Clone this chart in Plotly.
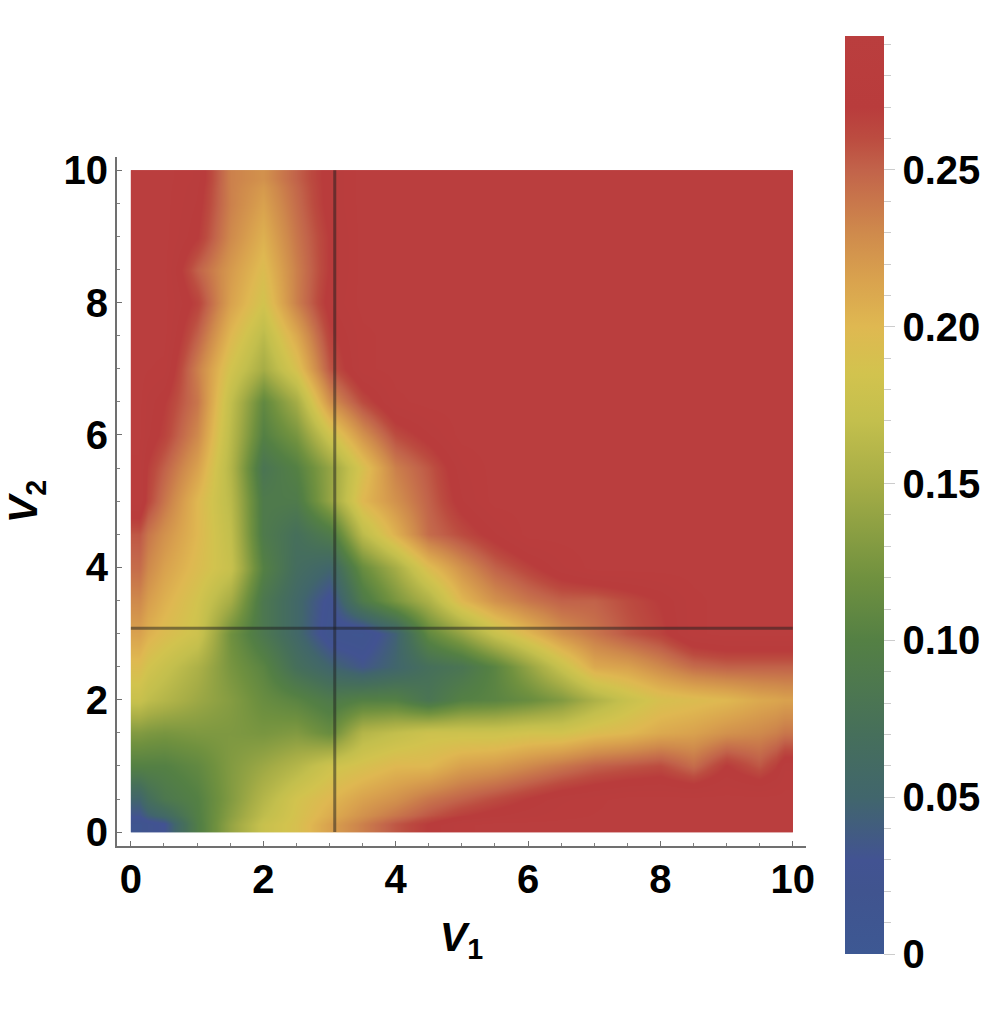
import plotly.graph_objects as go

v1_edges = [0, .25, .75, 1.25, 1.75, 2.25, 2.75, 3.25, 3.75, 4.25, 4.75, 5.25, 5.75, 6.25, 6.75, 7.25, 7.75, 8.25, 8.75, 9.25, 9.75, 10]
v2_edges = [0, .25, .75, 1.25, 1.75, 2.25, 2.75, 3.25, 3.75, 4.25, 4.75, 5.25, 5.75, 6.25, 6.75, 7.25, 7.75, 8.25, 8.75, 9.25, 9.75, 10]
crosshair_v1 = [3.08, 3.08]
crosshair_v2 = [3.08, 3.08]
crosshair_span = [0, 10]
z_max = 0.2927

z_rows = [
 [.015,.03,.095,.14,.175,.19,.215,.235,.255,.27,.285,.29,.29,.29,.29,.29,.29,.29,.29,.29,.29],
 [.05,.085,.10,.13,.16,.185,.20,.215,.225,.24,.25,.26,.27,.28,.285,.29,.29,.29,.29,.29,.29],
 [.10,.10,.11,.13,.145,.16,.18,.19,.20,.20,.215,.22,.23,.24,.25,.255,.26,.245,.27,.255,.28],
 [.13,.125,.128,.128,.125,.13,.115,.16,.17,.18,.18,.18,.185,.185,.195,.20,.21,.215,.225,.23,.24],
 [.175,.16,.145,.132,.115,.105,.09,.10,.10,.08,.10,.105,.115,.13,.155,.175,.19,.195,.20,.21,.215],
 [.195,.175,.155,.125,.105,.07,.05,.035,.05,.07,.08,.105,.14,.175,.21,.215,.23,.245,.25,.25,.25],
 [.215,.195,.18,.12,.085,.055,.02,.015,.045,.11,.14,.175,.20,.225,.24,.255,.265,.285,.29,.29,.29],
 [.23,.205,.185,.15,.085,.055,.025,.09,.125,.155,.20,.225,.24,.25,.25,.26,.27,.285,.29,.29,.29],
 [.245,.215,.195,.175,.10,.065,.05,.115,.15,.195,.225,.25,.265,.28,.29,.29,.29,.29,.29,.29,.29],
 [.255,.225,.20,.17,.09,.07,.09,.165,.205,.245,.26,.275,.29,.29,.29,.29,.29,.29,.29,.29,.29],
 [.285,.24,.20,.165,.09,.09,.14,.20,.225,.25,.275,.29,.29,.29,.29,.29,.29,.29,.29,.29,.29],
 [.285,.25,.215,.16,.08,.10,.14,.19,.235,.255,.28,.29,.29,.29,.29,.29,.29,.29,.29,.29,.29],
 [.29,.265,.23,.165,.10,.125,.18,.225,.26,.275,.29,.29,.29,.29,.29,.29,.29,.29,.29,.29,.29],
 [.29,.27,.24,.17,.11,.15,.225,.26,.285,.29,.29,.29,.29,.29,.29,.29,.29,.29,.29,.29,.29],
 [.29,.285,.235,.185,.15,.19,.255,.285,.29,.29,.29,.29,.29,.29,.29,.29,.29,.29,.29,.29,.29],
 [.29,.29,.25,.20,.165,.21,.265,.285,.29,.29,.29,.29,.29,.29,.29,.29,.29,.29,.29,.29,.29],
 [.29,.29,.265,.215,.185,.235,.275,.29,.29,.29,.29,.29,.29,.29,.29,.29,.29,.29,.29,.29,.29],
 [.29,.29,.25,.22,.195,.235,.27,.29,.29,.29,.29,.29,.29,.29,.29,.29,.29,.29,.29,.29,.29],
 [.29,.29,.27,.23,.205,.24,.27,.29,.29,.29,.29,.29,.29,.29,.29,.29,.29,.29,.29,.29,.29],
 [.29,.29,.275,.235,.215,.245,.275,.29,.29,.29,.29,.29,.29,.29,.29,.29,.29,.29,.29,.29,.29],
 [.29,.29,.28,.235,.225,.25,.275,.29,.29,.29,.29,.29,.29,.29,.29,.29,.29,.29,.29,.29,.29],
]

stop_values = [0, .02, .03, .05, .07, .10, .12, .15, .17, .185, .20, .215, .23, .25, .26, .27, z_max]
stop_colors = ["#3d5893", "#40548f", "#425392", "#41666c", "#466f5b", "#548044", "#70913f",
               "#a6ad46", "#c3bf4d", "#d2c34e", "#dfb851", "#d9a24e", "#cf8a4c", "#c2634a",
               "#bc4c40", "#b93c3c", "#ba3e3e"]
colorscale = [[v / z_max, c] for v, c in zip(stop_values, stop_colors)]

cbar_major = [0, .05, .10, .15, .20, .25]
cbar_labels = ["0", "0.05", "0.10", "0.15", "0.20", "0.25"]
cbar_minor = [i / 100 for i in range(30)]
axis_ticks = [0, 2, 4, 6, 8, 10]

FONT = "Liberation Sans"
W, H = 1000, 1031
L, R, T, B = 117, 806, 157, 846
tick_font = dict(family=FONT, size=40, color="black", weight="bold")

cb_common = dict(
    thickness=39, thicknessmode="pixels", len=918, lenmode="pixels",
    x=(845 - L) / (R - L), xanchor="left", xpad=0,
    y=(B - 495) / (B - T), yanchor="middle", ypad=0,
    outlinewidth=0, ticks="outside", tickcolor="#cccccc", tickwidth=1,
    tickmode="array",
)

fig = go.Figure()
fig.add_trace(go.Heatmap(
    x=v1_edges, y=v2_edges, z=z_rows, zmin=0, zmax=z_max, zsmooth="best",
    colorscale=colorscale, hoverinfo="skip",
    colorbar=dict(cb_common, tickvals=cbar_minor, ticklen=7, showticklabels=False),
))
fig.add_trace(go.Heatmap(
    x=v1_edges, y=v2_edges, z=z_rows, zmin=0, zmax=z_max, zsmooth="best",
    colorscale=colorscale, hoverinfo="skip",
    colorbar=dict(cb_common, tickvals=cbar_major, ticktext=cbar_labels, ticklen=11,
                  tickfont=tick_font),
))
line_style = dict(color="rgba(30,30,30,0.5)", width=3)
fig.add_trace(go.Scatter(x=crosshair_v1, y=crosshair_span, mode="lines",
                         line=line_style, showlegend=False, hoverinfo="skip"))
fig.add_trace(go.Scatter(x=crosshair_span, y=crosshair_v2, mode="lines",
                         line=line_style, showlegend=False, hoverinfo="skip"))

axis_common = dict(
    range=[-0.21, 10.2], showgrid=False, zeroline=False, showline=True,
    linecolor="#707070", linewidth=2, ticks="inside", ticklen=5, tickwidth=1,
    tickcolor="#707070", tickmode="array", tickvals=axis_ticks,
    tickfont=tick_font,
    minor=dict(ticks="inside", ticklen=3, tickwidth=1, tickcolor="#808080", dtick=0.5),
)
title_font = dict(family=FONT, size=41, color="black", weight="bold")
fig.update_layout(
    width=W, height=H, paper_bgcolor="white", plot_bgcolor="white",
    margin=dict(l=L, r=W - R, t=T, b=H - B, autoexpand=False),
    xaxis=dict(axis_common, ticklabelstandoff=-3,
               title=dict(text="<i>V</i><sub>1</sub>", font=title_font, standoff=22)),
    yaxis=dict(axis_common, ticklabelstandoff=-1,
               title=dict(text="<i>V</i><sub>2</sub>", font=title_font, standoff=16)),
    showlegend=False,
)
fig.write_html("out.html", config=dict(displayModeBar=False),
               post_script="document.body.style.margin='0';document.body.style.overflow='hidden';")
